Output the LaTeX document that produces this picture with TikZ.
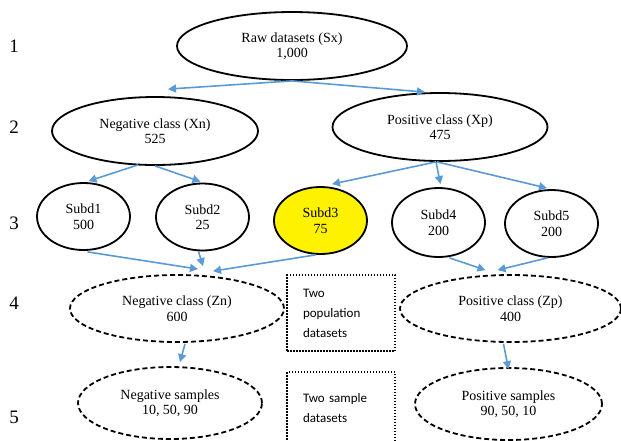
\documentclass[tikz,border=0pt]{standalone}
\usepackage{fontspec}
\setmainfont{Liberation Serif}
\newfontfamily\boxfont{Carlito}
\usetikzlibrary{shapes.geometric,arrows.meta}
\definecolor{arrblue}{RGB}{91,155,213}
\begin{document}
\begin{tikzpicture}[x=1pt,y=-1pt,
 ell/.style={ellipse, draw=black, line width=1.8pt, inner sep=0pt, align=center, font=\fontsize{14}{15.5}\selectfont},
 dell/.style={ell, dash pattern=on 5pt off 3pt},
 dotbox/.style={draw, line width=1.5pt, dash pattern=on 1.5pt off 1.5pt, inner xsep=16pt, inner ysep=0pt, text width=76pt, align=left, font=\boxfont\fontsize{13}{20}\selectfont},
 rowlab/.style={font=\fontsize{19}{19}\selectfont, inner sep=0pt},
 arr/.style={draw=arrblue, line width=1.6pt, -{Triangle[length=8pt,width=8pt]}}
]
\clip (0,0) rectangle (621,440);
\fill[white] (0,0) rectangle (621,440);

% row labels
\node[rowlab] (r1) at (14,46) {1};
\node[rowlab] (r2) at (14,127) {2};
\node[rowlab] (r3) at (14,223) {3};
\node[rowlab] (r4) at (14,303) {4};
\node[rowlab] (r5) at (14,417) {5};

% level 1-2
\node[ell, minimum width=230pt, minimum height=68pt] (raw) at (292,46) {Raw datasets (Sx)\\1,000};
\node[ell, minimum width=206pt, minimum height=68pt] (xn) at (155,131) {Negative class (Xn)\\525};
\node[ell, minimum width=215pt, minimum height=68pt] (xp) at (440,127) {Positive class (Xp)\\475};

% level 3
\node[ell, minimum width=93pt, minimum height=67pt] (s1) at (83.5,216.5) {Subd1\\500};
\node[ell, minimum width=93pt, minimum height=67pt] (s2) at (202.5,217) {Subd2\\25};
\node[ell, minimum width=93pt, minimum height=67pt, fill=yellow] (s3) at (320.5,220.5) {Subd3\\75};
\node[ell, minimum width=93pt, minimum height=69pt] (s4) at (438.5,222.5) {Subd4\\200};
\node[ell, minimum width=93pt, minimum height=67pt] (s5) at (551.5,223.5) {Subd5\\200};

% level 4
\node[dell, minimum width=214pt, minimum height=67pt] (zn) at (177,308.5) {Negative class (Zn)\\600};
\node[dell, minimum width=221pt, minimum height=67pt] (zp) at (510.5,308.5) {Positive class (Zp)\\400};
\node[dotbox, minimum height=76pt] (box1) at (341,313) {Two\\population\\datasets};

% level 5
\node[dell, minimum width=184pt, minimum height=72pt] (neg) at (170,403) {Negative samples\\10, 50, 90};
\node[dell, minimum width=187pt, minimum height=72pt] (pos) at (508.5,404) {Positive samples\\90, 50, 10};
\node[dotbox, minimum height=72pt] (box2) at (341,408) {Two sample\\datasets};

% connectors
\draw[arr] (raw.south) -- ([shift={(13,-7)}]xn.north);
\draw[arr] (raw.south) -- ([shift={(-15,0)}]xp.north);
\draw[arr] ([shift={(-17,-1)}]xn.south) -- ([shift={(5,-1)}]s1.north);
\draw[arr] (xn.south) -- ([shift={(-2,-1)}]s2.north);
\draw[arr] ([shift={(-4,0)}]xp.south) -- ([shift={(11.5,-2)}]s3.north);
\draw[arr] ([shift={(-4,0)}]xp.south) -- ([shift={(2,-3)}]s4.north);
\draw[arr] ([shift={(-3,0)}]xp.south) -- ([shift={(-4.5,-1)}]s5.north);
\draw[arr] ([shift={(4,1)}]s1.south) -- ([shift={(21,-5)}]zn.north);
\draw[arr] ([shift={(-4,0)}]s2.south) -- ([shift={(26,-8)}]zn.north);
\draw[arr] ([shift={(-5,0)}]s3.south) -- ([shift={(36,-3)}]zn.north);
\draw[arr] ([shift={(11,0)}]s4.south) -- ([shift={(-25,-4)}]zp.north);
\draw[arr] ([shift={(-4,0)}]s5.south) -- ([shift={(-13,-4)}]zp.north);
\draw[arr] ([shift={(8,1)}]zn.south) -- ([shift={(10,-4)}]neg.north);
\draw[arr] ([shift={(-7,1)}]zp.south) -- ([shift={(0,2)}]pos.north);
\end{tikzpicture}
\end{document}
